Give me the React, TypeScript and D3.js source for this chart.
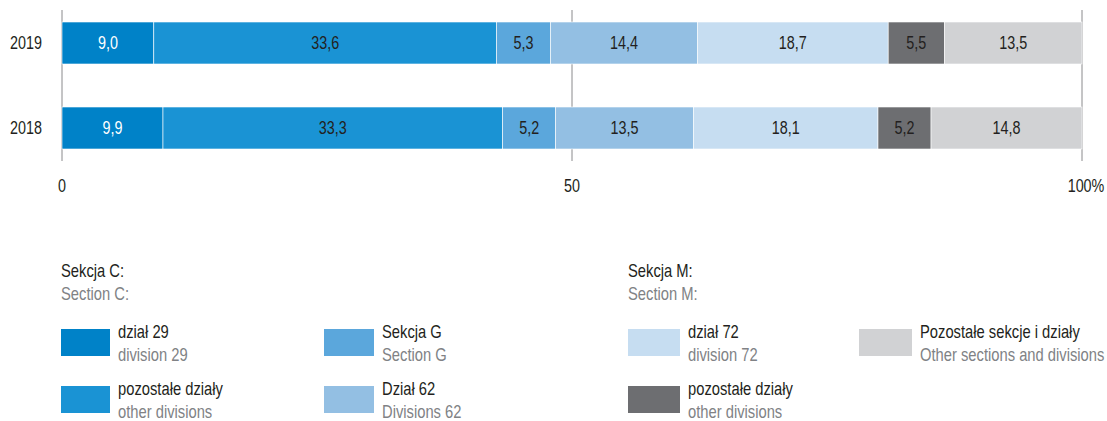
import React from "react";
import * as d3 from "d3";

const years = ["2019", "2018"];
const seriesKeys = ["d29", "otherC", "secG", "d62", "d72", "otherM", "rest"];
const values2019 = [9.0, 33.6, 5.3, 14.4, 18.7, 5.5, 13.5];
const values2018 = [9.9, 33.3, 5.2, 13.5, 18.1, 5.2, 14.8];
const colors = ["#0082c8", "#1a93d4", "#5ba7dc", "#93bfe3", "#c6ddf1", "#6d6e71", "#d1d2d4"];
const labelColors = ["#ffffff", "#231f20", "#231f20", "#231f20", "#231f20", "#231f20", "#231f20"];
const ticks = [0, 50, 100];
const tickLabels = ["0", "50", "100%"];

const legendPl = ["dział 29", "pozostałe działy", "Sekcja G", "Dział 62", "dział 72", "pozostałe działy", "Pozostałe sekcje i działy"];
const legendEn = ["division 29", "other divisions", "Section G", "Divisions 62", "division 72", "other divisions", "Other sections and divisions"];
const groupTitlesPl = ["Sekcja C:", "Sekcja M:"];
const groupTitlesEn = ["Section C:", "Section M:"];

const FONT = "'Liberation Sans', Arial, sans-serif";
const SX = 0.82;

type TProps = {
  x: number;
  y: number;
  anchor?: "start" | "middle" | "end";
  size?: number;
  fill?: string;
  children: React.ReactNode;
};

function T({ x, y, anchor = "start", size = 18, fill = "#231f20", children }: TProps) {
  return (
    <text
      transform={`translate(${x},${y}) scale(${SX},1)`}
      textAnchor={anchor}
      fontSize={size}
      fill={fill}
    >
      {children}
    </text>
  );
}

export default function App() {
  const W = 1107, H = 421;
  const x = d3.scaleLinear().domain([0, 100]).range([62, 1082]);
  const rows = [values2019, values2018];
  const barTop = [22, 107];
  const barH = 42;

  const stacks = rows.map((vals) => {
    let acc = 0;
    return vals.map((v) => {
      const s = acc;
      acc += v;
      return [s, acc];
    });
  });

  const legendItems = [
    { col: 0, row: 0 }, { col: 0, row: 1 },
    { col: 1, row: 0 }, { col: 1, row: 1 },
    { col: 2, row: 0 }, { col: 2, row: 1 },
    { col: 3, row: 0 },
  ];
  const colX = [61, 324, 628, 859];
  const swW = [49, 50, 52, 53];
  const rowY = [329, 386];

  return (
    <svg width={W} height={H} style={{ position: "absolute", left: 0, top: 0, fontFamily: FONT }}>
      {ticks.map((t) => (
        <line key={t} x1={x(t)} x2={x(t)} y1={10} y2={161} stroke="#8a8a8c" strokeWidth={1} />
      ))}
      {rows.map((vals, i) => (
        <g key={years[i]}>
          <T x={42} y={barTop[i] + barH / 2 + 6} anchor="end" size={17.5}>{years[i]}</T>
          {stacks[i].map(([s, e], j) => (
            <g key={seriesKeys[j]}>
              <rect
                x={x(s)}
                y={barTop[i]}
                width={x(e) - x(s)}
                height={barH}
                fill={colors[j]}
                stroke="#ffffff"
                strokeWidth={0.6}
              />
              <T x={(x(s) + x(e)) / 2} y={barTop[i] + barH / 2 + 6} anchor="middle" size={17.5} fill={labelColors[j]}>
                {d3.format(".1f")(vals[j]).replace(".", ",")}
              </T>
            </g>
          ))}
        </g>
      ))}
      {ticks.map((t, i) => (
        <T key={t} x={x(t) + (i === 2 ? 4 : 0)} y={192} anchor="middle" size={17.5}>{tickLabels[i]}</T>
      ))}
      {groupTitlesPl.map((g, i) => (
        <g key={g}>
          <T x={i === 0 ? 61 : 628} y={277}>{g}</T>
          <T x={i === 0 ? 61 : 628} y={300} fill="#808285">{groupTitlesEn[i]}</T>
        </g>
      ))}
      {legendItems.map((it, k) => {
        const lx = colX[it.col];
        const ly = rowY[it.row];
        return (
          <g key={k}>
            <rect x={lx} y={ly} width={swW[it.col]} height={27} fill={colors[k]} />
            <T x={lx + swW[it.col] + 8} y={ly + 9}>{legendPl[k]}</T>
            <T x={lx + swW[it.col] + 8} y={ly + 32} fill="#808285">{legendEn[k]}</T>
          </g>
        );
      })}
    </svg>
  );
}
